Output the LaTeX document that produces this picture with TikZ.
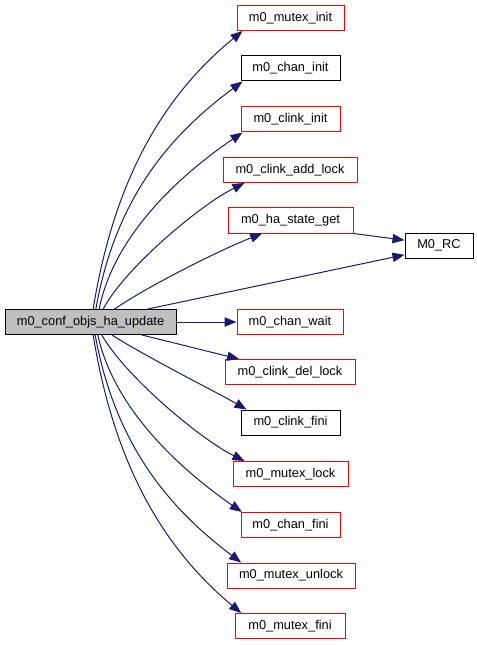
\documentclass[tikz,border=0pt]{standalone}
\usepackage{fontspec}
\setmainfont{Liberation Sans}
\usetikzlibrary{arrows.meta}
\definecolor{CallBlue}{HTML}{191970}
\definecolor{FnGray}{HTML}{BFBFBF}
\definecolor{FnRed}{HTML}{FF0000}

\begin{document}
\begin{tikzpicture}[
  x=0.75pt, y=-0.75pt,
  fn/.style={draw, line width=0.75pt, inner sep=0pt, minimum height=18.75pt,
    minimum width=#1*0.75pt, font=\fontsize{9.6}{11}\selectfont},
  fnred/.style={fn=#1, draw=FnRed},
  call/.style={-{Triangle[length=9pt, width=7pt]}, CallBlue, line width=0.75pt}
]
\useasboundingbox (0,0) rectangle (477,645);

% caller
\node[fn=171, fill=FnGray] (confupdate) at (90.5,322) {m0\_conf\_objs\_ha\_update};

% callees
\node[fnred=107] (mutexinit)    at (290.5,18)    {m0\_mutex\_init};
\node[fn=99]     (chaninit)     at (290.5,68.5)  {m0\_chan\_init};
\node[fnred=99]  (clinkinit)    at (290.5,119.5) {m0\_clink\_init};
\node[fnred=134] (clinkaddlock) at (290,170)     {m0\_clink\_add\_lock};
\node[fnred=125] (hastateget)   at (290.5,220.5) {m0\_ha\_state\_get};
\node[fn=68]     (mrc)          at (439,245.5)   {M0\_RC};
\node[fnred=106] (chanwait)     at (290,322)     {m0\_chan\_wait};
\node[fnred=130] (clinkdellock) at (290,372)     {m0\_clink\_del\_lock};
\node[fn=99]     (clinkfini)    at (290.5,422.5) {m0\_clink\_fini};
\node[fnred=115] (mutexlock)    at (290.5,474)   {m0\_mutex\_lock};
\node[fnred=99]  (chanfini)     at (290.5,525)   {m0\_chan\_fini};
\node[fnred=128] (mutexunlock)  at (291,575.5)   {m0\_mutex\_unlock};
\node[fnred=110] (mutexfini)    at (290,626)     {m0\_mutex\_fini};

% calls above
\draw[call] ([xshift=2pt]confupdate.north) .. controls (114,180) and (163,96) .. ([xshift=4.5pt]mutexinit.south west);
\draw[call] ([xshift=4pt]confupdate.north) .. controls (116,195) and (173,133) .. ([xshift=1.5pt]chaninit.south west);
\draw[call] ([xshift=6.5pt]confupdate.north) .. controls (114,235) and (180,175) .. ([xshift=1.5pt]clinkinit.south west);
\draw[call] ([xshift=9.5pt]confupdate.north) .. controls (125,268) and (200,205) .. ([xshift=16.5pt]clinkaddlock.south west);
\draw[call] ([xshift=18pt]confupdate.north) .. controls (150,285) and (220,250) .. ([xshift=26pt]hastateget.south west);
\draw[call] ([xshift=43pt]confupdate.north) -- ([yshift=-7pt]mrc.west);
\draw[call] (hastateget.south east) -- ([yshift=4pt]mrc.west);

% calls level and below
\draw[call] (confupdate.east) -- (chanwait.west);
\draw[call] ([xshift=38.5pt]confupdate.south) .. controls (175,343) and (210,352) .. ([xshift=11pt]clinkdellock.north west);
\draw[call] ([xshift=16pt]confupdate.south) .. controls (150,359) and (220,394) .. ([xshift=4.5pt]clinkfini.north west);
\draw[call] ([xshift=8.5pt]confupdate.south) .. controls (125,376) and (200,439) .. ([xshift=9pt]mutexlock.north west);
\draw[call] ([xshift=5.5pt]confupdate.south) .. controls (114,409) and (180,469) .. ([xshift=1pt]chanfini.north west);
\draw[call] ([xshift=3.5pt]confupdate.south) .. controls (116,449) and (173,511) .. ([xshift=11pt]mutexunlock.north west);
\draw[call] ([xshift=2pt]confupdate.south) .. controls (114,464) and (163,548) .. ([xshift=5pt]mutexfini.north west);
\end{tikzpicture}
\end{document}
